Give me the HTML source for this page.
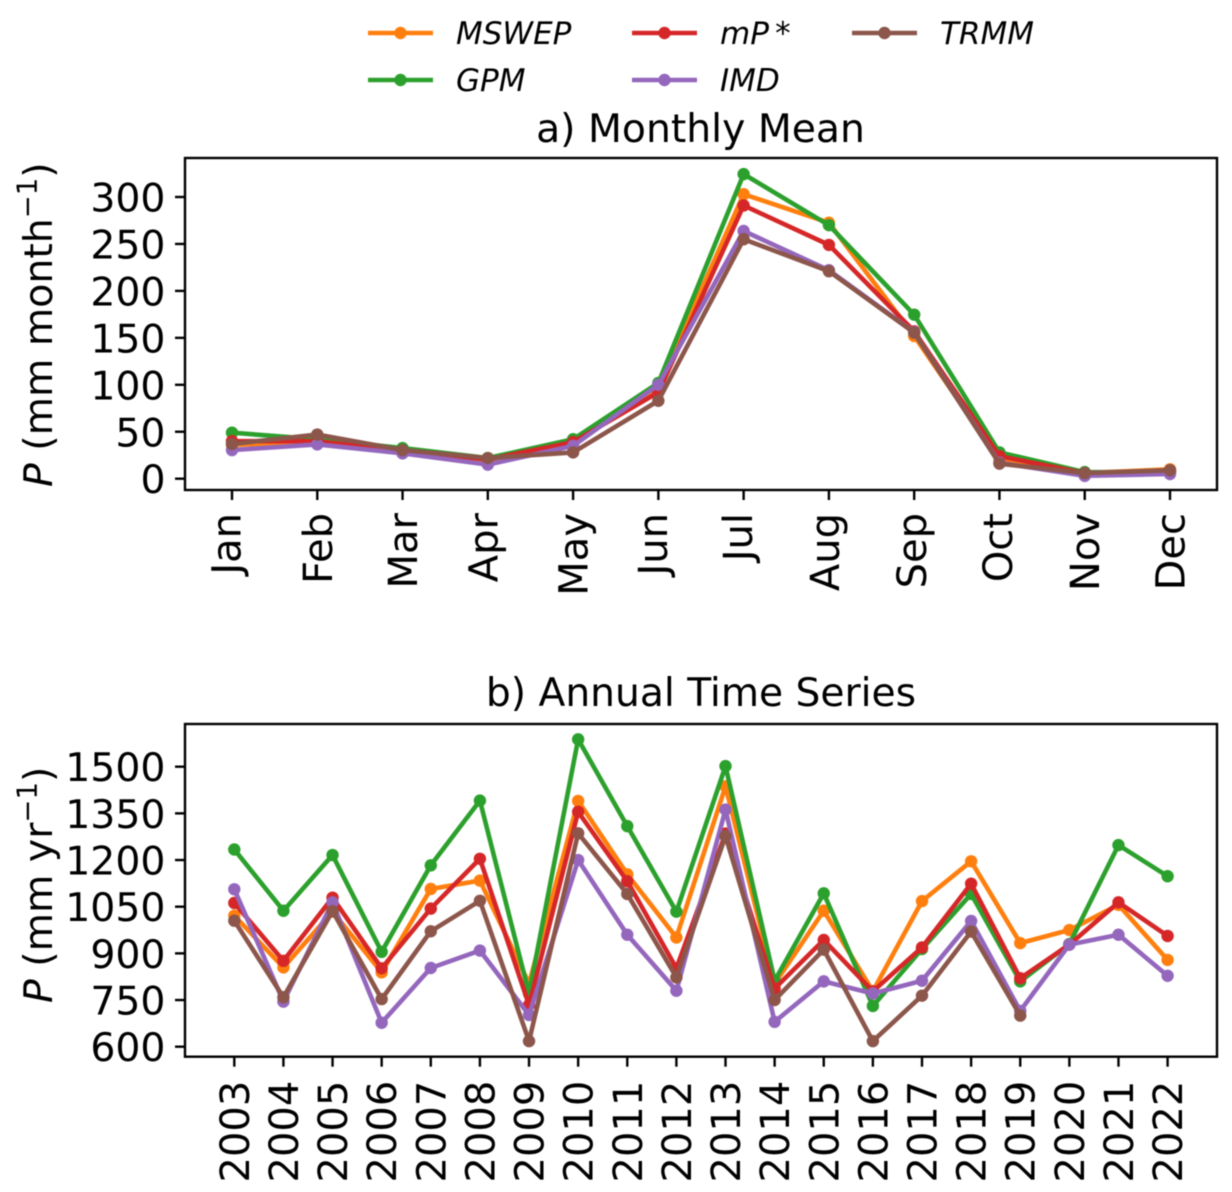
<!DOCTYPE html>
<html lang="en">
<head>
<meta charset="utf-8">
<title>Monthly Mean and Annual Time Series of Precipitation</title>
<style>
html,body{margin:0;padding:0;background:#fff;width:1232px;height:1192px;overflow:hidden}
svg{display:block;filter:blur(0.5px)}
text{font-family:"DejaVu Sans","Liberation Sans",sans-serif;fill:#000}
</style>
</head>
<body>
<svg id="chart" xmlns="http://www.w3.org/2000/svg" width="1232" height="1192" viewBox="0 0 1232 1192">
  <g id="legend"></g>
  <text x="700.5" y="142" text-anchor="middle" font-size="39.3">a) Monthly Mean</text>
  <text x="701" y="706" text-anchor="middle" font-size="39.2">b) Annual Time Series</text>
  <text transform="translate(52,487) rotate(-90)" font-size="39.4"><tspan font-style="italic">P</tspan> (mm month<tspan dy="-15.5" font-size="27.5">−1</tspan><tspan dy="15.5">)</tspan></text>
  <text transform="translate(52,1003) rotate(-90)" font-size="39.4"><tspan font-style="italic">P</tspan> (mm yr<tspan dy="-15.5" font-size="27.5">−1</tspan><tspan dy="15.5">)</tspan></text>
  <g id="panel-a"></g>
  <g id="panel-b"></g>
</svg>
<script>
const seriesNames = ["MSWEP", "GPM", "mP\u2009*", "IMD", "TRMM"];
const seriesColors = ["#ff7f0e", "#2ca02c", "#d62728", "#9467bd", "#8c564b"];

const months = ["Jan","Feb","Mar","Apr","May","Jun","Jul","Aug","Sep","Oct","Nov","Dec"];
const monthlyTicks = [0, 50, 100, 150, 200, 250, 300];
const monthlyMSWEP = [36, 39, 29.5, 20, 38, 98, 303, 272.6, 152, 20, 6, 10];
const monthlyGPM   = [49, 42, 32.6, 22, 42, 102, 324.4, 270, 174.7, 28, 7, 7];
const monthlyMP    = [40, 40, 29.5, 20.5, 39, 92, 291, 249, 157, 24, 6, 8];
const monthlyIMD   = [30.5, 36.5, 27, 15, 35, 100, 263.8, 222, 156, 17, 3, 5];
const monthlyTRMM  = [37, 47, 30.5, 22, 28, 83, 255, 221, 155.5, 16, 6, 9];

const years = ["2003","2004","2005","2006","2007","2008","2009","2010","2011","2012","2013","2014","2015","2016","2017","2018","2019","2020","2021","2022"];
const annualTicks = [600, 750, 900, 1050, 1200, 1350, 1500];
const annualMSWEP = [1021, 855, 1034, 839, 1107, 1134, 803, 1390, 1154, 951, 1437, 802, 1037, 778, 1068, 1196, 933, 975, 1056, 879];
const annualGPM   = [1234, 1037, 1216, 905, 1183, 1391, 771, 1588, 1309, 1034, 1502, 812, 1093, 731, 914, 1091, 810, 930, 1248, 1148];
const annualMP    = [1062, 876, 1079, 852, 1044, 1204, 734, 1355, 1132, 852, 1285, 787, 943, 778, 919, 1124, 820, 928, 1064, 956];
const annualIMD   = [1106, 745, 1064, 677, 853, 909, 702, 1200, 960, 780, 1362, 680, 810, 771, 812, 1004, 715, 928, 960, 828];
const annualTRMM  = [1005, 759, 1036, 753, 971, 1069, 618, 1286, 1091, 823, 1277, 750, 912, 618, 764, 970, 700, null, null, null];

const monthlySeries = [monthlyMSWEP, monthlyGPM, monthlyMP, monthlyIMD, monthlyTRMM];
const annualSeries = [annualMSWEP, annualGPM, annualMP, annualIMD, annualTRMM];

const SVG_NS = "http://www.w3.org/2000/svg";

function make(parent, tag, attrs, content) {
  const node = document.createElementNS(SVG_NS, tag);
  for (const key in attrs) node.setAttribute(key, attrs[key]);
  if (content !== undefined) node.textContent = content;
  parent.appendChild(node);
  return node;
}

function linearAxis(d0, d1, r0, r1) {
  return function (v) { return r0 + (v - d0) * (r1 - r0) / (d1 - d0); };
}

function slug(s) {
  return s.toLowerCase().replace(/[^a-z0-9]+/g, "");
}

/* Labels with descending glyphs sit slightly left of the tick, as their ink box is centred on it. */
function descenderNudge(label) {
  if (/J/.test(label)) return -6;
  if (/^A/.test(label)) return -4.6;
  if (/^S/.test(label)) return -2.5;
  if (/^O/.test(label)) return -2;
  return 0;
}

function drawPanel(rootId, prefix, cfg) {
  const root = document.getElementById(rootId);
  const x = cfg.x;
  const y = cfg.y;

  cfg.series.forEach(function (values, s) {
    const group = make(root, "g", {});
    
    
    let pts = [];
    values.forEach(function (v, i) {
      if (v !== null) pts.push(x(i).toFixed(2) + "," + y(v).toFixed(2));
    });
    const line = make(group, "polyline", {
      points: pts.join(" "), fill: "none", stroke: seriesColors[s],
      "stroke-width": 4.6, "stroke-linejoin": "round", "stroke-linecap": "square"
    });
    
    
    values.forEach(function (v, i) {
      if (v === null) return;
      const dot = make(group, "circle", { cx: x(i), cy: y(v), r: 6.2, fill: seriesColors[s] });
      
      
    });
  });

  const frame = make(root, "rect", {
    x: cfg.left, y: cfg.top, width: cfg.right - cfg.left, height: cfg.bottom - cfg.top,
    fill: "none", stroke: "#000", "stroke-width": 2.4
  });
  
  

  cfg.yTicks.forEach(function (t) {
    const mark = make(root, "line", {
      x1: cfg.left - 10, x2: cfg.left, y1: y(t), y2: y(t), stroke: "#000", "stroke-width": 2.4
    });
    
    
    const label = make(root, "text", {
      x: cfg.left - 19.5, y: y(t) + 14.5, "text-anchor": "end", "font-size": 39.4
    }, String(t));
    
    
  });

  cfg.categories.forEach(function (c, i) {
    const mark = make(root, "line", {
      x1: x(i), x2: x(i), y1: cfg.bottom, y2: cfg.bottom + 10, stroke: "#000", "stroke-width": 2.4
    });
    
    
    const lx = x(i) + cfg.labelDx + descenderNudge(c);
    const ly = cfg.bottom + cfg.labelDy;
    const label = make(root, "text", {
      transform: "translate(" + lx + "," + ly + ") rotate(-90)",
      "text-anchor": "end", "font-size": 40
    }, c);
    
    
  });
}

drawPanel("panel-a", "monthly", {
  series: monthlySeries,
  categories: months,
  yTicks: monthlyTicks,
  x: linearAxis(0, 11, 232, 1170),
  y: linearAxis(0, 300, 478.7, 197),
  left: 185, right: 1217, top: 158, bottom: 490,
  labelDx: 14.5, labelDy: 23
});

drawPanel("panel-b", "annual", {
  series: annualSeries,
  categories: years,
  yTicks: annualTicks,
  x: linearAxis(0, 19, 234.3, 1167.6),
  y: linearAxis(600, 1500, 1046.7, 766.7),
  left: 185, right: 1217, top: 724, bottom: 1056.7,
  labelDx: 14.5, labelDy: 24
});

const legendRoot = document.getElementById("legend");
const legendCols = [368, 632, 852];
const legendRows = [33, 80];
const legendSlots = [[0, 0], [0, 1], [1, 0], [1, 1], [2, 0]];

seriesNames.forEach(function (name, s) {
  const lx = legendCols[legendSlots[s][0]];
  const ly = legendRows[legendSlots[s][1]];
  const entry = make(legendRoot, "g", {});
  
  
  const stroke = make(entry, "line", {
    x1: lx, x2: lx + 65, y1: ly, y2: ly, stroke: seriesColors[s], "stroke-width": 4.6
  });
  
  
  const dot = make(entry, "circle", { cx: lx + 32.5, cy: ly, r: 6.2, fill: seriesColors[s] });
  
  
  const label = make(entry, "text", {
    x: lx + 88, y: ly + 11, "font-size": 31, "font-style": "italic"
  }, name);
  
  
});
</script>
</body>
</html>
